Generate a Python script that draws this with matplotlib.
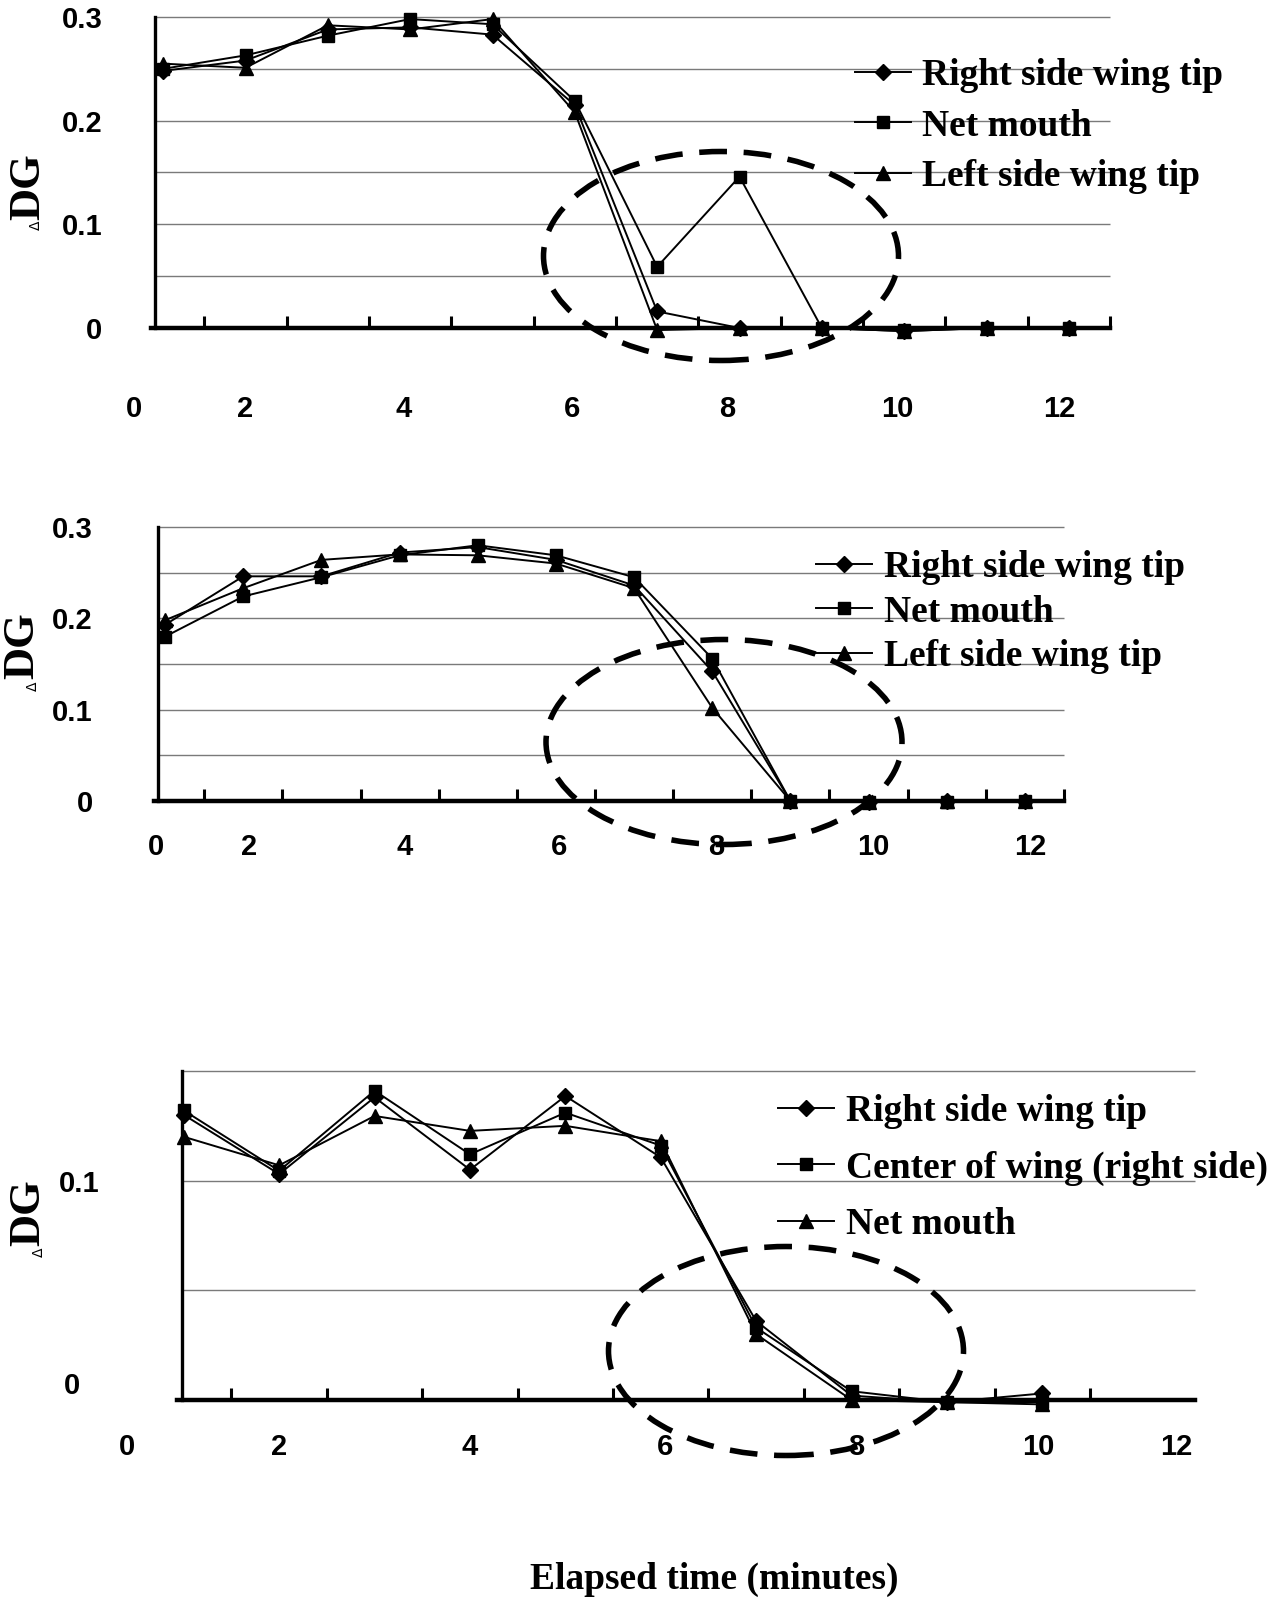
import matplotlib
matplotlib.use('Agg')
import matplotlib.pyplot as plt
from matplotlib.patches import Ellipse
from matplotlib.font_manager import FontProperties
import matplotlib.transforms as mtransforms
import numpy as np

# elapsed time (minutes)
time_a = [1, 2, 3, 4, 5, 6, 7, 8, 9, 10, 11, 12]
time_b = [1, 2, 3, 4, 5, 6, 7, 8, 9, 10]

# panel 1 (delta DG)
p1_right = [0.248, 0.258, 0.288, 0.290, 0.283, 0.215, 0.016, 0.0, 0.0, -0.003, 0.0, 0.0]
p1_net = [0.250, 0.263, 0.282, 0.298, 0.293, 0.219, 0.059, 0.146, 0.0, -0.002, 0.0, 0.0]
p1_left = [0.255, 0.251, 0.292, 0.288, 0.298, 0.208, -0.002, 0.0, 0.0, -0.003, 0.0, 0.0]

# panel 2
p2_right = [0.193, 0.246, 0.246, 0.272, 0.278, 0.264, 0.236, 0.142, 0.0, -0.001, 0.0, 0.0]
p2_net = [0.180, 0.224, 0.245, 0.269, 0.280, 0.269, 0.245, 0.156, 0.0, -0.001, -0.001, 0.0]
p2_left = [0.198, 0.233, 0.264, 0.270, 0.269, 0.260, 0.233, 0.102, 0.0, -0.001, 0.0, 0.0]

# panel 3
p3_right = [0.130, 0.103, 0.138, 0.105, 0.1386, 0.1106, 0.036, 0.002, -0.001, 0.003]
p3_center = [0.132, 0.1045, 0.141, 0.112, 0.131, 0.116, 0.033, 0.004, -0.001, -0.001]
p3_net = [0.120, 0.107, 0.1295, 0.1227, 0.125, 0.118, 0.030, 0.0, -0.001, -0.002]

labels_ab = ['Right side wing tip', 'Net mouth', 'Left side wing tip']
labels_c = ['Right side wing tip', 'Center of wing (right side)', 'Net mouth']
xtick_text = ['0', '2', '4', '6', '8', '10', '12']

W, H = 1278, 1599
fig = plt.figure(figsize=(W / 100, H / 100), dpi=100)

serif_bold = FontProperties(family='Liberation Serif', weight='bold', size=27)


def px_box(left, right, top, bottom):
    return [left / W, 1 - bottom / H, (right - left) / W, (bottom - top) / H]


def draw_panel(ax, t, series, labels, x0, x_end, xlim_left, ymax, yticks,
               xlab_pos, xlab_pad, ylab_pad, minor_ticks, legend_xy, legend_space):
    markers = [('D', 8.5), ('s', 8.5), ('^', 10)]
    handles = []
    for vals, (m, ms) in zip(series, markers):
        ln, = ax.plot(t, vals, color='black', lw=1.4, marker=m, ms=ms,
                      clip_on=False, zorder=3)
        handles.append(ln)

    ax.set_xlim(xlim_left, x_end)
    ax.set_ylim(0, ymax)

    # horizontal grid between the y axis and the right end
    for g in np.arange(0.05, ymax + 0.001, 0.05):
        ax.hlines(g, x0, x_end, color='#7a7a7a', lw=1.0, clip_on=False, zorder=1)

    for s in ['top', 'right']:
        ax.spines[s].set_visible(False)
    ax.spines['left'].set_position(('data', x0))
    ax.spines['left'].set_bounds(0, ymax)
    ax.spines['left'].set_linewidth(2.4)
    ax.spines['bottom'].set_bounds(x0 - 0.05, x_end)
    ax.spines['bottom'].set_linewidth(3.2)

    ax.set_xticks(xlab_pos, xtick_text, fontsize=21, fontweight='bold',
                  fontfamily='Liberation Sans')
    ax.set_xticks(minor_ticks, minor=True)
    ax.tick_params(axis='x', which='major', length=0, pad=xlab_pad)
    ax.tick_params(axis='x', which='minor', direction='in', length=9, width=2.2)

    ax.set_yticks(yticks, ['0' if v == 0 else f'{v:g}' for v in yticks],
                  fontsize=21, fontweight='bold', fontfamily='Liberation Sans')
    ax.tick_params(axis='y', length=0, pad=ylab_pad)

    ax.legend(handles, labels, loc='center left',
              bbox_to_anchor=(legend_xy[0] / W, 1 - legend_xy[1] / H),
              bbox_transform=fig.transFigure, frameon=False, prop=serif_bold,
              handlelength=1.5, handletextpad=0.3, borderpad=0,
              borderaxespad=0, labelspacing=legend_space)


ax1 = fig.add_axes(px_box(122, 1110, 17, 328))
draw_panel(ax1, time_a, [p1_right, p1_net, p1_left], labels_ab,
           0.9, 12.5, 0.5, 0.3, [0, 0.1, 0.2, 0.3],
           [0.65, 2, 3.92, 5.96, 7.85, 9.92, 11.88], 48, 38,
           np.arange(1.5, 12.6, 1), (855, 126), 0.42)

ax2 = fig.add_axes(px_box(126, 1064, 527, 801))
draw_panel(ax2, time_a, [p2_right, p2_net, p2_left], labels_ab,
           0.91, 12.5, 0.5, 0.3, [0, 0.1, 0.2, 0.3],
           [0.88, 2.07, 4.07, 6.04, 8.05, 10.06, 12.07], 23, 47,
           np.arange(1.5, 12.6, 1), (816, 612), 0.26)

ax3 = fig.add_axes(px_box(117, 1195, 1071, 1400))
draw_panel(ax3, time_b, [p3_right, p3_center, p3_net], labels_c,
           0.98, 11.6, 0.3, 0.15, [0, 0.1],
           [0.41, 2, 4, 6.04, 8.05, 9.96, 11.4], 24, 59,
           np.arange(1.5, 10.6, 1), (778, 1168), 0.58)
zero3 = ax3.get_yticklabels()[0]
zero3.set_va('bottom')
zero3.set_transform(zero3.get_transform() +
                    mtransforms.ScaledTranslation(-0.2, 0, fig.dpi_scale_trans))

# y axis labels (small delta + DG)
for x, y, dx, dy in [(28, 187, 36, 225), (22, 646, 33, 686), (28, 1213, 39, 1252)]:
    fig.text(x / W, 1 - y / H, 'DG', rotation=90, ha='center', va='center',
             family='Liberation Serif', weight='bold', size=32)
    fig.text(dx / W, 1 - dy / H, 'Δ', rotation=90, ha='center', va='center',
             family='DejaVu Sans', size=10)

# dashed ellipses marking the drop region
for cx, cy, w, h in [(721, 256, 355, 209), (724, 742, 356, 205), (786, 1351, 355, 209)]:
    fig.add_artist(Ellipse((cx / W, 1 - cy / H), w / W, h / H,
                           transform=fig.transFigure, fill=False,
                           ec='black', lw=4, ls=(0, (5, 3))))

fig.text(714 / W, 1 - 1579 / H, 'Elapsed time (minutes)', ha='center', va='center',
         family='Liberation Serif', weight='bold', size=27)

fig.savefig('out.png', dpi=100, facecolor='white')
